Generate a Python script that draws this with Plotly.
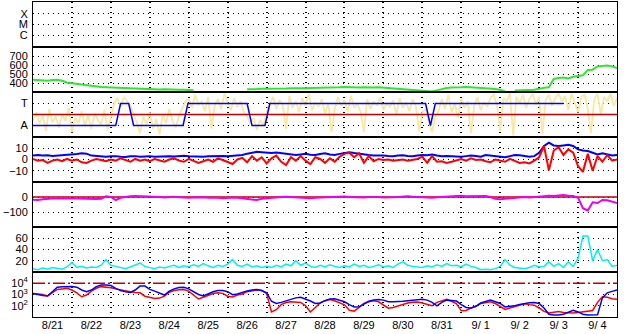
import pandas as pd
import plotly.graph_objects as go
from plotly.subplots import make_subplots

start = pd.Timestamp("2024-08-21")
end = pd.Timestamp("2024-09-05")

# ---- 3-hourly series ----
speed = [435, 430, 428, 425, 432, 435, 425, 405, 398, 390,
         380, 378, 372, 360, 355, 352, 350, 342, 340, 338,
         335, 334, 333, 333, 330, 332, 328, 330, 326, 328,
         325, 325, 322, 320, None, None, None, None, None, None,
         None, None, None, None, 330, 335, 332, 336, 335, 338,
         336, 340, 338, 342, 340, 343, 342, 345, 345, 348,
         350, 352, 350, 352, 355, 352, 355, 350, 352, 355,
         350, 352, 348, 345, 342, 340, 335, 330, 325, 320,
         315, 308, 305, 318, 335, 345, 350, 355, 352, 355,
         350, 352, 345, 342, 340, 335, 325, 305, None, 318,
         320, 318, 322, 325, 335, 348, 352, 445, 455, 460,
         450, 470, 478, 485, 545, 548, 585, 590, 595, 585,
         565]

bt = [3.5, 4.0, 3.5, 3.8, 3.2, 3.5, 4.0, 3.8,
      4.2, 5.0, 5.5, 5.2, 3.5, 3.0, 2.8, 2.5,
      2.8, 3.0, 2.5, 2.2, 2.8, 3.0, 2.5, 2.8,
      3.0, 2.5, 2.8, 3.2, 3.0, 2.6, 3.0, 3.4,
      3.0, 2.8, 2.5, 2.4, 2.8, 3.0, 2.6, 3.2,
      2.8, 3.0, 3.5, 4.0, 5.2, 6.0, 6.8, 6.5,
      6.0, 5.8, 6.2, 5.5, 5.0, 4.5, 4.0, 4.5,
      5.0, 4.2, 4.0, 4.8, 5.5, 4.5, 4.0, 5.0,
      6.0, 6.5, 5.8, 5.0, 4.5, 4.0, 3.5, 3.8,
      3.5, 3.2, 3.0, 3.5, 3.8, 3.2, 3.0, 3.5,
      4.0, 3.8, 4.5, 3.5, 3.0, 3.2, 2.8, 3.0,
      2.5, 3.0, 3.5, 3.2, 2.5, 4.0, 3.5, 3.0,
      2.5, 2.0, 3.0, 4.0, 3.8, 3.0, 2.5, 3.0,
      6.0, 12.0, 15.0, 12.5, 12.0, 12.5, 13.0, 12.0,
      9.0, 8.0, 7.5, 6.0, 4.5, 5.5, 4.5, 3.5, 4.0]

bz = [0.5, -1.0, -0.5, -3.0, -1.0, 0.0, -1.5, 0.5,
      -1.0, 0.0, -2.5, -3.0, -1.0, 0.5, -0.5, -1.5,
      0.0, -1.0, 1.0, -0.5, -2.0, 0.5, -1.0, 0.0,
      -1.5, 0.5, -0.5, -2.0, 0.0, 1.0, -1.0, -2.0,
      0.5, -1.0, -3.0, -1.5, 0.0, -2.0, 1.0, -0.5,
      -2.0, -4.0, 0.0, 1.5, -2.5, 3.0, -1.0, 2.0,
      -3.5, 1.0, 3.5, -2.0, -5.0, 2.0, -1.0, 3.0,
      -1.0, -4.0, 2.0, 0.5, -3.0, 1.0, -2.0, 2.5,
      5.0, 6.0, 2.0, 5.5, -3.0, 3.0, -1.5, 0.5,
      -0.5, 0.0, -1.0, -0.5, 0.0, -1.0, -0.5, 0.5,
      2.5, -3.0, 3.0, -2.0, -1.5, -3.0, -2.0, -1.0,
      0.5, -1.0, 1.0, -0.5, 0.0, -1.5, -2.5, 0.0,
      -1.0, -2.0, 0.5, -1.5, -3.0, -2.5, -3.5, -1.0,
      2.0, 12.0, -9.5, 8.0, 11.0, 4.0, 9.0, 6.0,
      -6.0, -11.0, 5.0, -10.0, 3.0, -2.0, 4.0, -1.0, 0.0]

dst = [-18, -20, -15, -10, -10, -8, -10, -12,
       -10, -10, -12, -13, -12, -14, -12, 5,
       0, -20, -5, 2, 5, 6, 5, 8,
       5, 2, 0, -3, 0, 2, -2, -5,
       -5, -3, 0, -2, -5, -3, -5, -8,
       -5, -3, -5, -8, -10, -15, -20, -12,
       -8, -5, -3, 0, 2, 0, -5, -8,
       -10, -8, -5, -3, -5, -2, 0, 2,
       3, 0, -2, -5, -3, 0, 2, 0,
       -3, -5, -2, 0, 3, 5, 2, 0,
       -3, -8, -5, -2, 0, 3, 2, 5,
       8, 5, 6, 8, 8, 6, 0, -12,
       -15, -12, -5, -3, -2, 0, -3, -2,
       3, 5, 8, 6, 10, 13, 8, 6,
       -5, -75, -90, -35, -40, -20, -22, -30, -40]

kp_like = [6, 4, 7, 5, 8, 6, 5, 9,
           17, 8, 10, 7, 9, 8, 12, 22,
           12, 10, 8, 6, 9, 12, 16, 10,
           8, 6, 9, 7, 10, 12, 8, 11,
           9, 13, 10, 15, 11, 8, 12, 10,
           14, 22, 12, 10, 14, 9, 11, 8,
           10, 8, 12, 9, 14, 11, 20, 12,
           16, 10, 8, 12, 9, 13, 10, 8,
           11, 9, 14, 10, 12, 8, 10, 13,
           9, 11, 8, 14, 18, 12, 10, 9,
           8, 11, 9, 13, 10, 15, 11, 12,
           9, 14, 10, 8, 4, 5, 4, 6,
           10, 22, 12, 8, 7, 6, 8, 12,
           9, 10, 18, 10, 15, 8, 18, 10,
           24, 64, 64, 20, 40, 20, 22, 10, 12]

# log10 of electron flux
flux_blue_log10 = [3.10, 3.00, 2.92, 2.87, 3.30, 3.65, 3.70, 3.70,
                   3.72, 3.65, 3.40, 3.25, 3.40, 3.70, 3.85, 3.85,
                   3.80, 3.55, 3.35, 3.25, 3.18, 3.40, 3.75, 3.75,
                   3.45, 3.30, 3.10, 2.95, 3.30, 3.50, 3.62, 3.65,
                   3.50, 3.25, 3.00, 2.87, 3.05, 3.25, 3.35, 3.35,
                   3.25, 2.98, 3.05, 3.20, 3.32, 3.40, 3.45, 3.35,
                   3.15, 2.40, 2.20, 2.30, 2.45, 2.60, 2.70, 2.75,
                   2.60, 2.42, 2.20, 2.25, 2.45, 2.60, 2.62, 2.50,
                   2.35, 2.10, 1.88, 1.90, 2.15, 2.40, 2.52, 2.55,
                   2.50, 2.35, 2.35, 2.35, 2.40, 2.45, 2.50, 2.55,
                   2.57, 2.50, 2.30, 2.00, 2.30, 2.50, 2.48, 2.42,
                   2.10, 1.85, 1.80, 1.95, 2.25, 2.40, 2.50, 2.35,
                   2.20, 1.90, 1.95, 2.00, 2.12, 2.22, 2.27, 2.28,
                   2.20, 1.80, 1.25, 1.18, 1.18, 1.25, 1.40, 1.60,
                   1.45, 1.25, 1.18, 1.18, 1.20, 2.70, 3.15, 3.28, 3.40]

flux_red_log10 = [3.10, 3.05, 3.00, 2.87, 3.20, 3.45, 3.50, 3.55,
                  3.40, 3.15, 2.80, 2.95, 3.30, 3.55, 3.70, 3.68,
                  3.60, 3.50, 3.40, 3.33, 3.25, 3.18, 3.15, 2.85,
                  2.75, 2.65, 2.68, 2.85, 3.20, 3.35, 3.42, 3.45,
                  3.30, 2.95, 2.60, 2.75, 2.95, 3.08, 3.15, 3.10,
                  2.85, 2.78, 2.95, 3.05, 3.25, 3.35, 3.40, 3.35,
                  3.10, 1.45, 1.65, 2.10, 2.28, 2.35, 2.35, 2.30,
                  2.00, 1.45, 1.85, 2.25, 2.45, 2.55, 2.45, 2.25,
                  2.08, 1.60, 1.52, 1.85, 2.20, 2.35, 2.45, 2.35,
                  2.10, 1.78, 1.85, 2.00, 2.15, 2.25, 2.32, 2.33,
                  2.25, 2.15, 2.00, 2.30, 2.45, 2.57, 2.40, 2.20,
                  1.55, 1.58, 1.80, 1.95, 2.20, 2.30, 2.35, 2.20,
                  1.95, 1.68, 1.80, 1.92, 2.10, 2.18, 2.10, 2.05,
                  1.80, 1.50, 1.35, 1.42, 1.48, 1.40, 1.35, 1.35,
                  1.40, 1.45, 1.48, 1.58, 2.30, 2.80, 2.75, 2.62, 2.57]

# ---- 2-hourly IMF angle (panel units: A=0, T=2) ----
imf_angle = [0.5, 1.2, 0.2, 0.9, -0.5, 1.5, 0.3, 0.8, -0.2, 1.0, 0.4, 1.6, -0.6, 0.7, 0.2, 1.3,
             0.0, 0.9, -0.3, 1.1, 0.5, 0.1, 1.4, -0.4, 0.8,
             2.0, 2.5, 1.7, 2.6, 2.2, 1.8, 1.0,
             0.3, -0.7, 0.8, 0.1, 1.2, -0.3, 0.6, -0.8, 1.0, 0.2, 1.5, 0.4, -0.2, 0.9, 1.6, 2.2,
             2.4, 1.6, 2.8, 1.9, 2.2, 1.3, 2.6, -0.3, 1.8, 2.4, 1.5, 2.9, 2.0, 1.4, 2.5, 1.7, 2.2, 1.2, 0.8,
             0.2, 0.7, -0.4, 0.5, 0.0, 1.2,
             2.0, 2.6, 1.5, 2.3, 1.9, -0.3, 2.7, 1.6, 2.2, 1.2, 2.5, 1.8, 2.9, 1.4, 2.1, 1.7, 2.4, 1.1,
             2.0, -0.6, 1.5, 2.6,
             1.8, 2.3, 1.3, 2.7, 1.6, 2.0, 1.2, -0.6, 2.4, 1.5, 2.2, 1.8, 2.6, 1.4, 2.0, 1.7, 2.3, 1.0,
             2.5, 1.6, 2.1, 1.3, 2.4, 1.8, -0.5, 1.2, 1.5,
             0.3, -0.6, 0.8, 1.3,
             2.4, 1.5, 2.8, 1.2, 2.0, 0.7, 2.5, 1.6, 2.2, -0.7, 1.8, 2.6, 1.4, 2.1, 1.7, 2.5,
             2.8, 1.9, -0.5, 2.5, 2.2, 2.9, -0.9, 2.6, 2.0, 2.8, 1.6, 2.4, 2.9, 1.9, 2.6, -0.8,
             2.3, 2.8, 1.8, 2.5, 2.9, 2.2,
             2.7, 1.4, 2.9, 2.0, 1.2, 2.6, 2.8, 1.5, -0.7, 2.4, 2.9, 1.0, 2.6, 2.2, 2.9, 1.8, 2.5]

# sector polarity (A=0 away, T=2 toward) at hours since start
sector_hours = [0, 51, 54, 59, 62, 92.5, 95.5, 132, 135, 143, 146, 242, 245, 248, 327]
sector_pol = [0, 0, 2, 2, 0, 0, 2, 2, 0, 0, 2, 2, 0, 2, 2]

flare_labels = ["C", "M", "X"]
sector_labels = ["A", "T"]
flux_tickvals = [100, 1000, 10000]
flux_ticktext = ["10<sup>2</sup>", "10<sup>3</sup>", "10<sup>4</sup>"]
sector_boundary = 1
dst_zero = 0
flux_alert = 1e4


def times(vals, step_h):
    return [start + pd.Timedelta(hours=step_h * k) for k in range(len(vals))]


t3 = times(speed, 3)
t2 = times(imf_angle, 2)
ts = [start + pd.Timedelta(hours=h) for h in sector_hours]
flux_blue = [10 ** v for v in flux_blue_log10]
flux_red = [10 ** v for v in flux_red_log10]

fig = make_subplots(rows=7, cols=1, shared_xaxes=True, vertical_spacing=0)

GREEN = "#2fe62f"
BLUE = "#0000ff"
RED = "#ff0000"
DARKRED = "#c00000"

fig.add_trace(go.Scatter(x=[start], y=[None], mode="lines"), row=1, col=1)
fig.add_trace(go.Scatter(x=t3, y=speed, mode="lines", line=dict(color=GREEN, width=2)), row=2, col=1)
fig.add_trace(go.Scatter(x=t2, y=imf_angle, mode="lines", line=dict(color="#f8e8a4", width=1.8)), row=3, col=1)
fig.add_trace(go.Scatter(x=[start, end], y=[sector_boundary] * 2, mode="lines",
                         line=dict(color=DARKRED, width=1.5)), row=3, col=1)
fig.add_trace(go.Scatter(x=ts, y=sector_pol, mode="lines", line=dict(color=BLUE, width=1.5)), row=3, col=1)
fig.add_trace(go.Scatter(x=t3, y=bt, mode="lines", line=dict(color=BLUE, width=2)), row=4, col=1)
fig.add_trace(go.Scatter(x=t3, y=bz, mode="lines", line=dict(color=RED, width=2)), row=4, col=1)
fig.add_trace(go.Scatter(x=[start, end], y=[dst_zero] * 2, mode="lines",
                         line=dict(color=DARKRED, width=1.5)), row=5, col=1)
fig.add_trace(go.Scatter(x=t3, y=dst, mode="lines", line=dict(color="#ee00ee", width=2)), row=5, col=1)
fig.add_trace(go.Scatter(x=t3, y=kp_like, mode="lines", line=dict(color="#00f0f0", width=1.5)), row=6, col=1)
fig.add_trace(go.Scatter(x=[start, end], y=[flux_alert] * 2, mode="lines",
                         line=dict(color=DARKRED, width=1.5, dash="12px,3px,2px,3px")), row=7, col=1)
fig.add_trace(go.Scatter(x=t3, y=flux_red, mode="lines", line=dict(color=RED, width=1.5)), row=7, col=1)
fig.add_trace(go.Scatter(x=t3, y=flux_blue, mode="lines", line=dict(color=BLUE, width=1.5)), row=7, col=1)

DOT = "1px,4px"
common_y = dict(showline=True, mirror=True, linecolor="black", linewidth=1,
                showgrid=True, gridcolor="black", griddash=DOT, gridwidth=1,
                zeroline=False, ticks="", tickfont=dict(size=11, color="black"),
                ticklabelstandoff=2, fixedrange=True)

fig.update_yaxes(**common_y)
fig.update_yaxes(row=1, col=1, range=[-0.14, 4.14], tickvals=[1, 2, 3], ticktext=flare_labels)
fig.update_yaxes(row=2, col=1, range=[300, 800], tickvals=[400, 500, 600, 700])
fig.update_yaxes(row=3, col=1, range=[-1.05, 3.05], tickvals=[0, 2], ticktext=sector_labels)
fig.update_yaxes(row=4, col=1, range=[-20, 20], tickvals=[-10, 0, 10])
fig.update_yaxes(row=5, col=1, range=[-200, 100], tickvals=[-100, 0])
fig.update_yaxes(row=6, col=1, range=[0, 80], tickvals=[20, 40, 60])
fig.update_yaxes(row=7, col=1, type="log", range=[1, 5], tickvals=flux_tickvals,
                 ticktext=flux_ticktext)

fig.update_xaxes(type="date", range=[start, end], showline=True, mirror=True,
                 linecolor="black", linewidth=1, showgrid=True, gridcolor="black",
                 griddash=DOT, gridwidth=1.5, zeroline=False, ticks="",
                 dtick=86400000, tick0=start, ticklabelmode="period",
                 tickformat="%-m/%e", tickfont=dict(size=11, color="black"),
                 ticklabelstandoff=-2, automargin=False, fixedrange=True)

fig.update_layout(width=628, height=334, margin=dict(l=33, r=11, t=2, b=17),
                  paper_bgcolor="white", plot_bgcolor="white", showlegend=False,
                  font=dict(family="Liberation Sans, Arial, sans-serif", size=12, color="black"))

fig.write_html("out.html")
